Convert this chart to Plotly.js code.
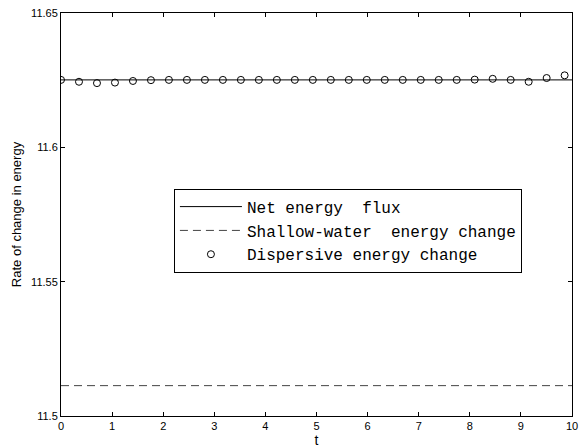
<!DOCTYPE html>
<html>
<head>
<meta charset="utf-8">
<script src="https://cdn.plot.ly/plotly-3.0.1.min.js"></script>
<style>html,body{margin:0;padding:0;background:#fff;}#chart{width:581px;height:448px;}</style>
</head>
<body>
<div id="chart"></div>
<script>
// Time axis
const lineT = [0, 10];
const netFlux = [11.6251, 11.6251];
const shallowChange = [11.5113, 11.5113];
// Dispersive energy change samples (circles)
const dispT = [0, 0.352, 0.704, 1.056, 1.408, 1.76, 2.112, 2.464, 2.816, 3.168, 3.52, 3.872, 4.224, 4.576, 4.928, 5.28, 5.632, 5.984, 6.336, 6.688, 7.04, 7.392, 7.744, 8.096, 8.448, 8.8, 9.152, 9.504, 9.856];
const dispVal = [11.6251, 11.6244, 11.6239, 11.6241, 11.6247, 11.6250, 11.6251, 11.6251, 11.6251, 11.6251, 11.6251, 11.6251, 11.6251, 11.6251, 11.6251, 11.6251, 11.6251, 11.6251, 11.6251, 11.6251, 11.6251, 11.6251, 11.6251, 11.6252, 11.6255, 11.6251, 11.6244, 11.6258, 11.6268];
const xTicks = [0,1,2,3,4,5,6,7,8,9,10];
const yTicks = [11.5, 11.55, 11.6, 11.65];
const yTickText = ['11.5', '11.55', '11.6', '11.65'];
const names = ['Net energy\u00a0\u00a0flux', 'Shallow-water\u00a0\u00a0energy change', 'Dispersive energy change'];

const traces = [
  {x: lineT, y: netFlux, mode: 'lines', name: names[0], line: {color: '#000', width: 1}},
  {x: lineT, y: shallowChange, mode: 'lines', name: names[1], line: {color: '#444', width: 1, dash: '8px,5px'}},
  {x: dispT, y: dispVal, mode: 'markers', name: names[2], marker: {symbol: 'circle-open', size: 7, color: '#000', line: {width: 1, color: '#000'}}}
];

const axisCommon = {
  showgrid: false, zeroline: false, showline: true, linecolor: '#000', linewidth: 1,
  mirror: 'ticks', ticks: 'inside', ticklen: 4, tickcolor: '#000', tickwidth: 1,
  tickfont: {family: 'Liberation Sans, Arial, sans-serif', size: 11, color: '#000'}
};

const layout = {
  width: 581, height: 448,
  margin: {l: 61, r: 9, t: 13, b: 31.5},
  paper_bgcolor: '#fff', plot_bgcolor: '#fff',
  showlegend: true,
  legend: {
    x: 0.221, y: 0.564, xanchor: 'left', yanchor: 'top',
    bgcolor: '#fff', bordercolor: '#000', borderwidth: 1,
    font: {family: 'Liberation Mono, Courier New, monospace', size: 16, color: '#000'},
    itemwidth: 62
  },
  xaxis: Object.assign({}, axisCommon, {
    range: [0, 10], tickvals: xTicks, ticktext: xTicks.map(String),
    title: {text: 't', font: {family: 'Liberation Sans, Arial, sans-serif', size: 14, color: '#000'}, standoff: 2}
  }),
  yaxis: Object.assign({}, axisCommon, {
    range: [11.5, 11.65], tickvals: yTicks, ticktext: yTickText,
    title: {text: 'Rate of change in energy', font: {family: 'Liberation Sans, Arial, sans-serif', size: 13, color: '#000'}, standoff: 6}
  })
};

Plotly.newPlot('chart', traces, layout, {displayModeBar: false, staticPlot: true});
</script>
</body>
</html>
